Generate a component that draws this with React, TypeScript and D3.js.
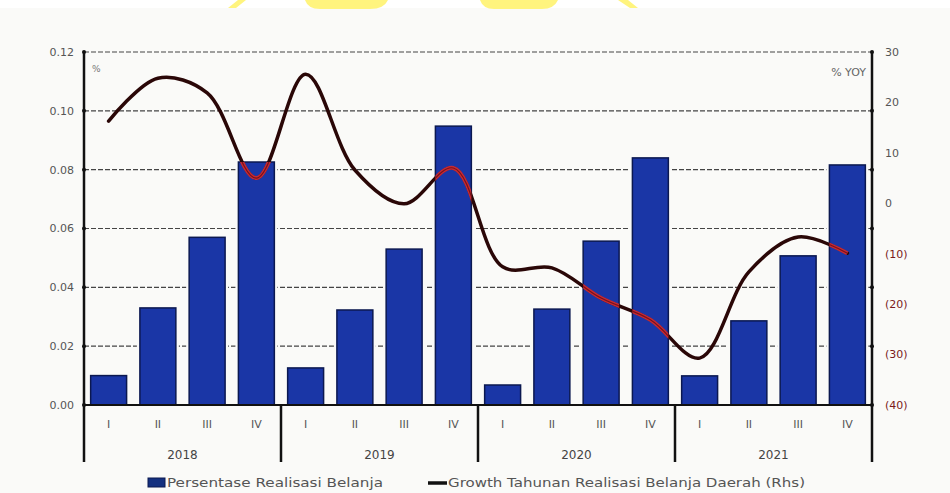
import React from "react";
import * as d3 from "d3";

const years = ["2018", "2019", "2020", "2021"];
const quarters = ["I", "II", "III", "IV"];
const barValues = [
  0.010, 0.033, 0.057, 0.0826,
  0.0126, 0.0323, 0.053, 0.0948,
  0.0068, 0.0326, 0.0557, 0.084,
  0.0099, 0.0286, 0.0507, 0.0816,
];
const growthValues = [
  16.3, 24.8, 21.9, 5.0,
  25.6, 6.6, -0.1, 7.0,
  -12.6, -12.8, -18.8, -23.1,
  -30.7, -13.6, -6.7, -9.9,
];
const leftTicks = [0, 0.02, 0.04, 0.06, 0.08, 0.1, 0.12];
const rightTicks = [30, 20, 10, 0, -10, -20, -30, -40];
const barLegend = "Persentase Realisasi Belanja";
const lineLegend = "Growth Tahunan Realisasi Belanja Daerah (Rhs)";

const W = 950, H = 493;
const L = 84, R = 872, T = 52, B = 405;
const FONT = "'DejaVu Sans', sans-serif";

export default function App() {
  const idx = d3.range(barValues.length);
  const x = d3.scaleBand<number>().domain(idx).range([L, R]).paddingInner(0.27).paddingOuter(0.135);
  const yL = d3.scaleLinear().domain([0, 0.12]).range([B, T]);
  const yR = d3.scaleLinear().domain([-40, 30]).range([B, T]);
  const line = d3
    .line<number>()
    .x((d, i) => (x(i) as number) + x.bandwidth() / 2)
    .y((d) => yR(d))
    .curve(d3.curveCatmullRom.alpha(0.5));
  const linePath = line(growthValues) || "";
  const step = x.step();
  const yearX = years.map((_, k) => L + k * 4 * step);

  return (
    <svg width={W} height={H} style={{ position: "absolute", left: 0, top: 0, display: "block" }}>
      <rect x={0} y={0} width={W} height={H} fill="#ffffff" />
      <rect x={0} y={8} width={W} height={H - 8} fill="#fafaf8" />
      {/* top yellow fragments */}
      <g fill="#fff47e">
        <path d="M228,8 L236,8 L246,0 L238,0 Z" />
        <path d="M305,0 L388,0 Q384,9 370,9 L320,9 Q308,9 305,0 Z" />
        <path d="M480,0 L558,0 Q554,9 542,9 L494,9 Q483,9 480,0 Z" />
        <path d="M618,0 L628,0 L638,8 L630,8 Z" />
      </g>
      <defs>
        <clipPath id="barclip">
          {barValues.map((v, i) => (
            <rect key={i} x={x(i)} y={yL(v)} width={x.bandwidth()} height={B - yL(v)} />
          ))}
        </clipPath>
      </defs>
      {/* gridlines */}
      {leftTicks.slice(1).map((t) => (
        <line key={t} x1={L} x2={R} y1={yL(t)} y2={yL(t)} stroke="#444" strokeWidth={1.2} strokeDasharray="5,2" />
      ))}
      {/* bars */}
      {barValues.map((v, i) => (
        <rect key={"h" + i} x={(x(i) as number) - 3} y={yL(v) - 3} width={x.bandwidth() + 6} height={B - yL(v) + 3} fill="#fafaf8" />
      ))}
      {barValues.map((v, i) => (
        <rect key={"b" + i} x={x(i)} y={yL(v)} width={x.bandwidth()} height={B - yL(v)} fill="#1a36a6" stroke="#0b1850" strokeWidth={1.5} />
      ))}
      {/* line */}
      <path d={linePath} fill="none" stroke="#2a0707" strokeWidth={3.5} strokeLinecap="round" />
      <path d={linePath} fill="none" stroke="#c42a36" strokeWidth={4} clipPath="url(#barclip)" />
      <path d={linePath} fill="none" stroke="#7a1218" strokeWidth={1.2} clipPath="url(#barclip)" />
      {/* axes */}
      <line x1={L} x2={L} y1={T} y2={462} stroke="#111" strokeWidth={2.5} />
      <line x1={R} x2={R} y1={T} y2={462} stroke="#111" strokeWidth={2.5} />
      <line x1={L} x2={R} y1={B} y2={B} stroke="#111" strokeWidth={2} />
      {yearX.slice(1).map((xx, k) => (
        <line key={k} x1={xx} x2={xx} y1={B} y2={462} stroke="#111" strokeWidth={2.5} />
      ))}
      {leftTicks.map((t) => (
        <g key={"lt" + t}>
          <circle cx={L} cy={yL(t)} r={2} fill="#111" />
          <circle cx={R} cy={yL(t)} r={2} fill="#111" />
          <text x={74} y={yL(t)} dy="0.35em" textAnchor="end" fontSize={11} fill="#555" fontFamily={FONT}>
            {t.toFixed(2)}
          </text>
        </g>
      ))}
      {rightTicks.map((t) => (
        <text key={"rt" + t} x={885} y={yR(t)} dy="0.35em" fontSize={11} fill={t < 0 ? "#7a1a1a" : "#555"} fontFamily={FONT}>
          {t < 0 ? `(${-t})` : String(t)}
        </text>
      ))}
      <text x={92} y={72} fontSize={9} fill="#777" fontFamily={FONT}>%</text>
      <text x={866} y={76} textAnchor="end" fontSize={11} fill="#666" fontFamily={FONT}>% YOY</text>
      {/* category labels */}
      {idx.map((i) => (
        <text key={"q" + i} x={(x(i) as number) + x.bandwidth() / 2} y={428} textAnchor="middle" fontSize={11} fill="#555" fontFamily={FONT}>
          {quarters[i % 4]}
        </text>
      ))}
      {years.map((yr, k) => (
        <text key={yr} x={yearX[k] + 2 * step} y={459} textAnchor="middle" fontSize={12} fill="#444" fontFamily={FONT}>
          {yr}
        </text>
      ))}
      {/* legend */}
      <rect x={148} y={478} width={17} height={9} fill="#14307f" stroke="#0b1850" strokeWidth={1} />
      <text x={167} y={487} fontSize={12.5} fill="#555" fontFamily={FONT} textLength={216} lengthAdjust="spacingAndGlyphs">{barLegend}</text>
      <line x1={428} x2={447} y1={483} y2={483} stroke="#111" strokeWidth={3.5} />
      <text x={448} y={487} fontSize={12.5} fill="#555" fontFamily={FONT} textLength={357} lengthAdjust="spacingAndGlyphs">{lineLegend}</text>
    </svg>
  );
}
